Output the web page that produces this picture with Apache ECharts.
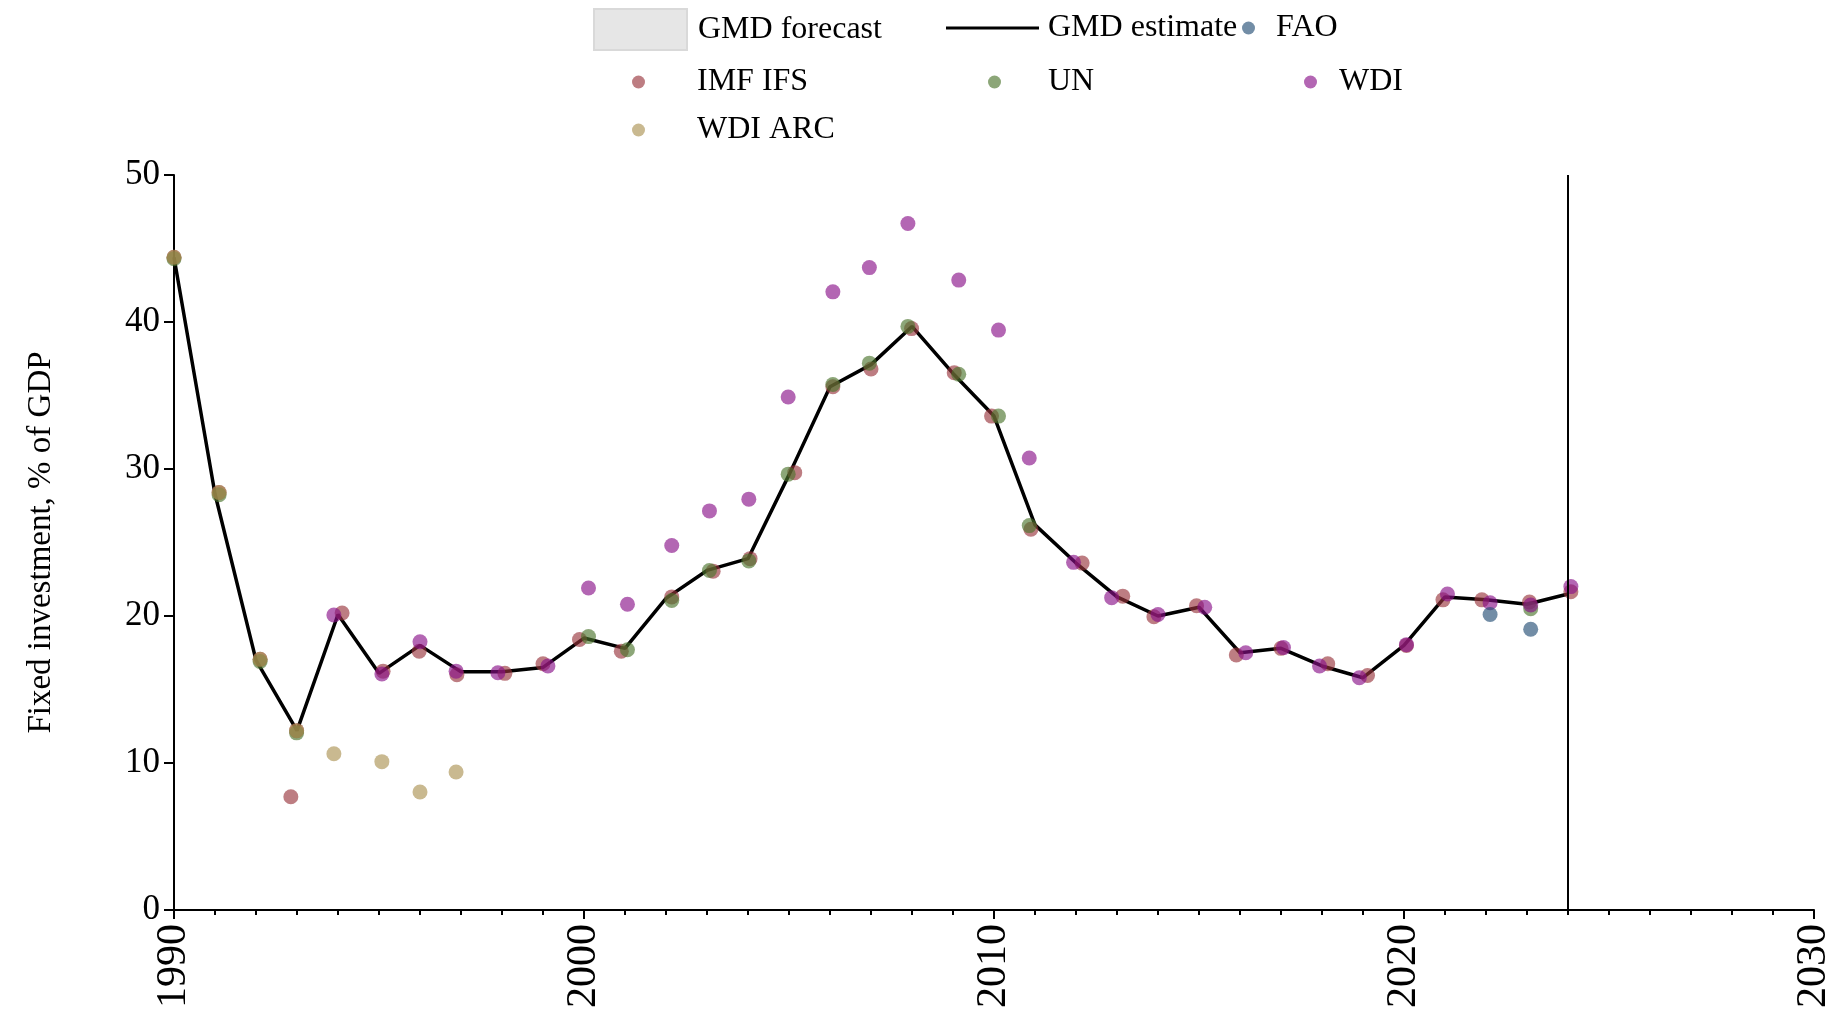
<!DOCTYPE html>
<html>
<head>
<meta charset="utf-8">
<script src="https://cdn.jsdelivr.net/npm/echarts@6/dist/echarts.min.js"></script>
<style>
html,body{margin:0;padding:0;background:#fff;}
#chart{width:1837px;height:1014px;}
</style>
</head>
<body>
<div id="chart"></div>
<script>
// ---- data (x = year with slight plotting jitter, y = % of GDP) ----
var gmdYears = [1990,1991,1992,1993,1994,1995,1996,1997,1998,1999,2000,2001,2002,2003,2004,2005,2006,2007,2008,2009,2010,2011,2012,2013,2014,2015,2016,2017,2018,2019,2020,2021,2022,2023,2024];
var gmdEstimate = [44.4,28.3,17.0,12.2,20.1,16.1,18.0,16.2,16.2,16.5,18.5,17.8,21.2,23.1,23.9,29.6,35.6,37.1,39.7,36.5,33.6,26.2,23.6,21.3,20.0,20.6,17.5,17.8,16.6,15.8,18.0,21.3,21.1,20.8,21.5];

var imfIfs = [[1990.0,44.4],[1991.1,28.4],[1992.1,17.05],[1992.99,12.2],[1992.85,7.7],[1994.1,20.2],[1995.1,16.25],[1995.98,17.6],[1996.9,16.0],[1998.07,16.1],[1999.0,16.75],[1999.89,18.4],[2000.91,17.6],[2002.14,21.3],[2003.15,23.05],[2004.05,23.9],[2005.14,29.75],[2006.07,35.6],[2007.0,36.8],[2007.99,39.55],[2009.03,36.55],[2009.94,33.6],[2010.9,25.9],[2012.15,23.6],[2013.14,21.35],[2013.9,19.95],[2014.94,20.7],[2015.91,17.35],[2017.0,17.8],[2018.14,16.75],[2019.11,15.95],[2020.06,18.0],[2020.95,21.1],[2021.9,21.1],[2023.06,20.95],[2024.07,21.65]];

var un = [[1990.0,44.3],[1991.1,28.25],[1992.1,16.9],[1992.99,12.05],[2000.11,18.6],[2001.06,17.7],[2002.14,21.05],[2003.06,23.1],[2004.02,23.75],[2004.98,29.65],[2006.07,35.75],[2006.96,37.2],[2007.9,39.7],[2009.14,36.45],[2010.11,33.6],[2010.86,26.15],[2023.09,20.5]];

var wdiArc = [[1990.0,44.4],[1991.1,28.4],[1992.1,17.05],[1992.99,12.2],[1993.9,10.63],[1995.07,10.09],[1996.0,8.03],[1996.88,9.39]];

var wdi = [[1993.9,20.07],[1995.07,16.05],[1996.0,18.25],[1996.88,16.25],[1997.9,16.14],[1999.12,16.6],[2000.11,21.9],[2001.06,20.8],[2002.14,24.8],[2003.06,27.15],[2004.02,27.95],[2004.98,34.9],[2006.07,42.05],[2006.96,43.7],[2007.9,46.7],[2009.14,42.85],[2010.11,39.45],[2010.86,30.75],[2011.94,23.65],[2012.87,21.25],[2014.0,20.1],[2015.14,20.6],[2016.14,17.5],[2017.06,17.85],[2017.94,16.6],[2018.91,15.8],[2020.06,18.05],[2021.06,21.5],[2022.1,20.9],[2023.09,20.75],[2024.07,22.0]];

var fao = [[2022.1,20.1],[2023.09,19.1]];

var forecastStart = 2024;
var xTicks = {min:1990, max:2030, interval:10};
var yTicks = {min:0, max:50, interval:10};

// ---- chart ----
var FONT = '"Liberation Serif", "Times New Roman", serif';
var C = {
  imf: 'rgba(152,51,59,0.8)',
  un: 'rgba(75,115,44,0.8)',
  wdi: 'rgba(136,16,136,0.8)',
  arc: 'rgba(171,146,81,0.8)',
  fao: 'rgba(35,76,116,0.8)'
};

var gmdData = gmdYears.map(function(y,i){return [y, gmdEstimate[i]];});

function leg(name, left, top, w, h, icon, pad){
  return {
    data:[name], left:left, top:top, orient:'horizontal', padding:0,
    itemWidth:w, itemHeight:h, icon:icon, selectedMode:false,
    textStyle:{fontFamily:FONT, fontSize:32, color:'#000', lineHeight:40, padding:[0,0,0,pad]}
  };
}

function scatter(name, data, color){
  return {
    name:name, type:'scatter', data:data, symbol:'circle', symbolSize:15,
    itemStyle:{color:color}, silent:true, z:3
  };
}

var chart = echarts.init(document.getElementById('chart'), null, {renderer:'canvas'});
chart.setOption({
  animation:false,
  backgroundColor:'#fff',
  textStyle:{fontFamily:FONT},
  legend:[
    leg('GMD forecast', 593, 8, 93, 41, 'rect', 6),
    leg('GMD estimate', 946, 8, 93, 3, 'rect', 4),
    leg('FAO', 1242, 8, 13, 13, 'circle', 16),
    leg('IMF IFS', 632, 62, 13, 13, 'circle', 47),
    leg('UN', 988, 62, 13, 13, 'circle', 42),
    leg('WDI', 1304, 62, 13, 13, 'circle', 17),
    leg('WDI ARC', 632, 110, 13, 13, 'circle', 47)
  ],
  grid:{left:174, right:23, top:175, bottom:104, containLabel:false},
  xAxis:{
    type:'value', min:xTicks.min, max:xTicks.max, interval:xTicks.interval,
    axisLine:{show:true, onZero:false, lineStyle:{color:'#000', width:2}},
    axisTick:{show:true, inside:false, length:9, lineStyle:{color:'#000', width:2}},
    minorTick:{show:true, splitNumber:10, length:5, lineStyle:{color:'#000', width:2}},
    splitLine:{show:false},
    axisLabel:{rotate:90, margin:14, fontSize:42, color:'#000', fontFamily:FONT,
      formatter:function(v){return String(v);}}
  },
  yAxis:{
    type:'value', min:yTicks.min, max:yTicks.max, interval:yTicks.interval,
    name:'Fixed investment, % of GDP', nameLocation:'middle', nameRotate:90, nameGap:116,
    nameTextStyle:{fontSize:33, color:'#000', fontFamily:FONT},
    axisLine:{show:true, lineStyle:{color:'#000', width:2}},
    axisTick:{show:true, inside:false, length:10, lineStyle:{color:'#000', width:2}},
    splitLine:{show:false},
    axisLabel:{margin:14, fontSize:35, color:'#000', fontFamily:FONT}
  },
  series:[
    {name:'GMD forecast', type:'line', data:[], itemStyle:{color:'#e6e6e6', borderColor:'#d9d9d9', borderWidth:2}, lineStyle:{width:0}, symbol:'none'},
    {name:'GMD estimate', type:'line', data:gmdData, symbol:'none', z:2,
      lineStyle:{color:'#000', width:3.5}, itemStyle:{color:'#000'},
      markLine:{silent:true, symbol:['none','none'], label:{show:false},
        lineStyle:{color:'#000', width:2, type:'solid'},
        data:[{xAxis:forecastStart}]}
    },
    scatter('IMF IFS', imfIfs, C.imf),
    scatter('UN', un, C.un),
    scatter('WDI ARC', wdiArc, C.arc),
    scatter('WDI', wdi, C.wdi),
    scatter('FAO', fao, C.fao)
  ]
});
</script>
</body>
</html>
